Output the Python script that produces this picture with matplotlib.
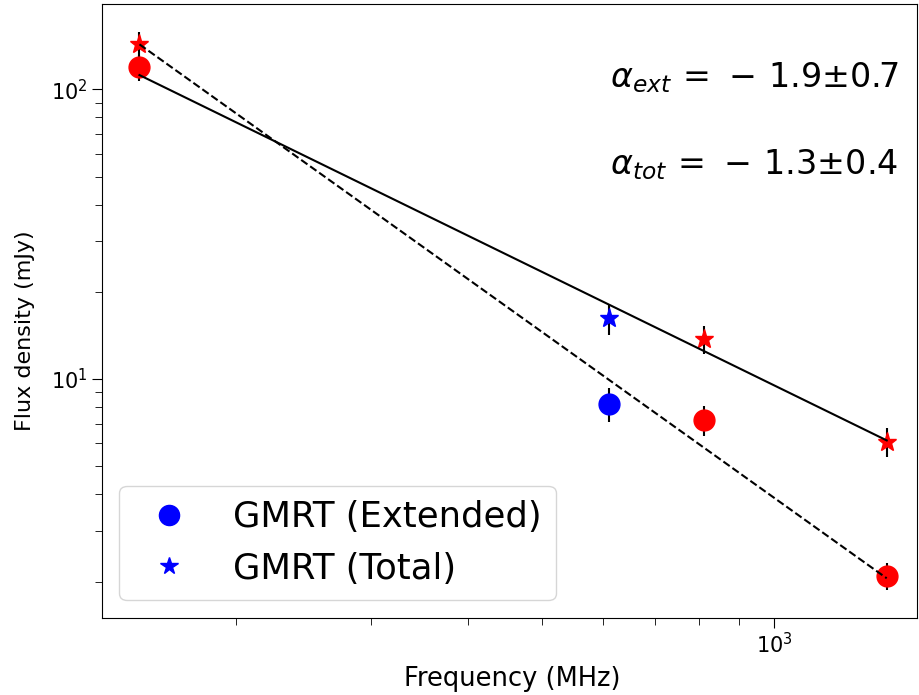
import numpy as np
import matplotlib
matplotlib.use('Agg')
import matplotlib.pyplot as plt
from matplotlib.lines import Line2D

# GMRT flux densities (mJy)
freq_ext_blue = [610]
flux_ext_blue = [8.2]
err_ext_blue = [1.1]
freq_ext_red = [150, 810, 1400]
flux_ext_red = [119, 7.2, 2.09]
err_ext_red = [12, 0.85, 0.22]

freq_tot_blue = [610]
flux_tot_blue = [16.2]
err_tot_blue = [2.0]
freq_tot_red = [150, 810, 1400]
flux_tot_red = [143, 13.7, 6.07]
err_tot_red = [15, 1.5, 0.7]

# power-law fits S = S0 (nu/150)^alpha
fit_freq = np.array([150, 1400])
ext_s0, ext_alpha = 143, -1.9
tot_s0, tot_alpha = 112, -1.3

fig = plt.figure(figsize=(9.19, 6.95), dpi=100)
ax = fig.add_axes([0.1107, 0.1112, 0.8872, 0.883])

ax.errorbar(freq_ext_blue, flux_ext_blue, yerr=err_ext_blue, fmt='o', color='blue',
            ecolor='k', elinewidth=1.5, markersize=15)
ax.errorbar(freq_tot_blue, flux_tot_blue, yerr=err_tot_blue, fmt='*', color='blue',
            ecolor='k', elinewidth=1.5, markersize=14)
ax.errorbar(freq_ext_red, flux_ext_red, yerr=err_ext_red, fmt='o', color='red',
            ecolor='k', elinewidth=1.5, markersize=15)
ax.errorbar(freq_tot_red, flux_tot_red, yerr=err_tot_red, fmt='*', color='red',
            ecolor='k', elinewidth=1.5, markersize=14)

ax.plot(fit_freq, ext_s0 * (fit_freq / 150.0) ** ext_alpha, 'k--', lw=1.5, zorder=5)
ax.plot(fit_freq, tot_s0 * (fit_freq / 150.0) ** tot_alpha, 'k-', lw=1.5, zorder=5)

ax.set_xscale('log')
ax.set_yscale('log')
ax.set_xlim(134, 1533)
ax.set_ylim(1.50, 197)
ax.xaxis.set_minor_formatter(matplotlib.ticker.NullFormatter())

ax.tick_params(which='major', labelsize=15, length=7)
ax.tick_params(which='minor', length=5)
ax.set_xlabel('Frequency (MHz)', fontsize=18.5)
ax.set_ylabel('Flux density (mJy)', fontsize=16)
ax.xaxis.set_label_coords(0.503, -0.078)
ax.yaxis.set_label_coords(-0.082, 0.467)

ax.text(0.623, 0.865, r'$\alpha_{ext}\,=\,-\,1.9$±0.7', transform=ax.transAxes,
        fontsize=24, va='baseline')
ax.text(0.623, 0.723, r'$\alpha_{tot}\,=\,-\,1.3$±0.4', transform=ax.transAxes,
        fontsize=24, va='baseline')

handles = [Line2D([], [], ls='none', marker='o', color='blue', markersize=14.5),
           Line2D([], [], ls='none', marker='*', color='blue', markersize=13)]
ax.legend(handles, ['GMRT (Extended)', 'GMRT (Total)'], loc='lower left', fontsize=25.5)

fig.savefig('out.png', dpi=100)
